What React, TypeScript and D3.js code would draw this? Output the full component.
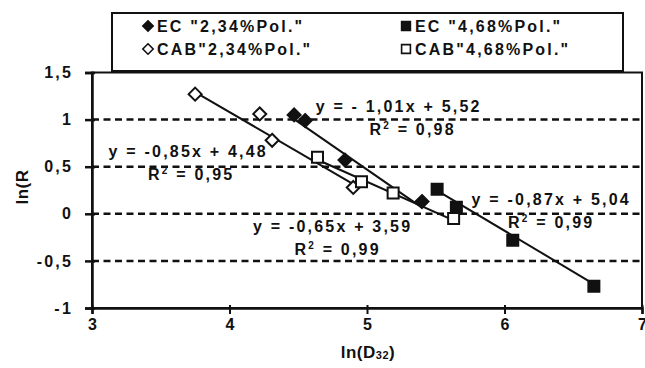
import React from 'react';
import * as d3 from 'd3';

// tick values
const xTicks = [3, 4, 5, 6, 7];
const yTicks = [-1, -0.5, 0, 0.5, 1, 1.5];
const gridValues = [-0.5, 0, 0.5, 1];

// series values
const ecLowX = [4.47, 4.55, 4.84, 5.4];
const ecLowY = [1.05, 0.99, 0.57, 0.13];
const ecHighX = [5.51, 5.65, 6.06, 6.65];
const ecHighY = [0.26, 0.07, -0.28, -0.77];
const cabLowX = [3.75, 4.22, 4.31, 4.9];
const cabLowY = [1.27, 1.06, 0.78, 0.28];
const cabHighX = [4.64, 4.96, 5.19, 5.63];
const cabHighY = [0.6, 0.34, 0.22, -0.05];

const seriesNames = ['EC "2,34%Pol."', 'EC "4,68%Pol."', 'CAB"2,34%Pol."', 'CAB"4,68%Pol."'];
const slopes = [-1.01, -0.87, -0.85, -0.65];
const intercepts = [5.52, 5.04, 4.48, 3.59];
const equations = ['y = - 1,01x + 5,52', 'y = -0,87x + 5,04', 'y = -0,85x + 4,48', 'y = -0,65x + 3,59'];
const rSquared = ['0,98', '0,99', '0,95', '0,99'];
// label anchors in data units (centre of the equation text)
const eqAnchorX = [5.23, 6.34, 3.7, 4.75];
const eqAnchorY = [1.14, 0.15, 0.66, -0.13];

const FONT = '"Liberation Sans", Arial, sans-serif';

const App = () => {
  const ref = React.useRef(null);

  React.useEffect(() => {
    const svg = d3.select(ref.current);
    svg.selectAll('*').remove();

    const x = d3.scaleLinear().domain([3, 7]).range([92, 642]);
    const y = d3.scaleLinear().domain([-1, 1.5]).range([308, 72.5]);

    const series = [
      { name: seriesNames[0], xs: ecLowX, ys: ecLowY, shape: 'diamond', filled: true },
      { name: seriesNames[1], xs: ecHighX, ys: ecHighY, shape: 'square', filled: true },
      { name: seriesNames[2], xs: cabLowX, ys: cabLowY, shape: 'diamond', filled: false },
      { name: seriesNames[3], xs: cabHighX, ys: cabHighY, shape: 'square', filled: false },
    ];

    const markerPath = (shape) =>
      shape === 'diamond' ? 'M0,-6.5L6.5,0L0,6.5L-6.5,0Z' : 'M-5.5,-5.5H5.5V5.5H-5.5Z';

    const txt = (sel) =>
      sel
        .attr('font-family', FONT)
        .attr('font-weight', 'bold')
        .attr('font-size', 16)
        .attr('letter-spacing', 2.2)
        .attr('fill', '#111');

    // legend box
    svg.append('rect')
      .attr('x', 112).attr('y', 13).attr('width', 511).attr('height', 58)
      .attr('fill', 'white').attr('stroke', '#111').attr('stroke-width', 2);

    const legendCols = [148, 406];
    const legendRows = [26, 49];
    series.forEach((s, i) => {
      const lx = legendCols[i % 2];
      const ly = legendRows[Math.floor(i / 2)];
      svg.append('path')
        .attr('d', markerPath(s.shape))
        .attr('transform', `translate(${lx},${ly}) scale(0.8)`)
        .attr('fill', s.filled ? '#111' : 'white')
        .attr('stroke', '#111').attr('stroke-width', 2);
      svg.append('text')
        .call(txt)
        .attr('x', lx + 9).attr('y', ly)
        .attr('dy', '0.36em')
        .text(s.name);
    });

    // plot frame
    svg.append('rect')
      .attr('x', x(3)).attr('y', y(1.5))
      .attr('width', x(7) - x(3)).attr('height', y(-1) - y(1.5))
      .attr('fill', 'none').attr('stroke', '#111').attr('stroke-width', 2);

    // dashed gridlines
    svg.append('g')
      .selectAll('line')
      .data(gridValues)
      .join('line')
      .attr('x1', x(3)).attr('x2', x(7))
      .attr('y1', (d) => y(d)).attr('y2', (d) => y(d))
      .attr('stroke', '#111').attr('stroke-width', 2.5)
      .attr('stroke-dasharray', '7,4.5');

    // y axis
    const yAxis = svg.append('g')
      .attr('transform', `translate(${x(3)},0)`)
      .call(d3.axisLeft(y).tickValues(yTicks).tickSize(7).tickPadding(12)
        .tickFormat((d) => String(d).replace('.', ',')));
    yAxis.select('.domain').attr('stroke', '#111').attr('stroke-width', 2.5);
    yAxis.selectAll('line').attr('stroke', '#111').attr('stroke-width', 2.5).attr('x2', 3).attr('x1', -7);
    yAxis.selectAll('text').call(txt).attr('font-size', 16);

    // x axis
    const xAxis = svg.append('g')
      .attr('transform', `translate(0,${y(-1)})`)
      .call(d3.axisBottom(x).tickValues(xTicks).tickSize(6).tickPadding(5)
        .tickFormat((d) => String(d)));
    xAxis.select('.domain').attr('stroke', '#111').attr('stroke-width', 2.5);
    xAxis.selectAll('line').attr('stroke', '#111').attr('stroke-width', 2).attr('y1', -3);
    xAxis.selectAll('text').call(txt).attr('letter-spacing', 0);

    // trend lines
    series.forEach((s, i) => {
      const [x0, x1] = d3.extent(s.xs);
      svg.append('line')
        .attr('x1', x(x0)).attr('y1', y(slopes[i] * x0 + intercepts[i]))
        .attr('x2', x(x1)).attr('y2', y(slopes[i] * x1 + intercepts[i]))
        .attr('stroke', '#111').attr('stroke-width', 2);
    });

    // markers
    series.forEach((s) => {
      svg.append('g')
        .selectAll('path')
        .data(s.xs.map((v, j) => [v, s.ys[j]]))
        .join('path')
        .attr('d', markerPath(s.shape))
        .attr('transform', (d) => `translate(${x(d[0])},${y(d[1])})`)
        .attr('fill', s.filled ? '#111' : 'white')
        .attr('stroke', '#111').attr('stroke-width', 2);
    });

    // equations and R²
    series.forEach((s, i) => {
      const cx = x(eqAnchorX[i]);
      const cy = y(eqAnchorY[i]);
      svg.append('text')
        .call(txt)
        .attr('x', cx).attr('y', cy).attr('dy', '0.36em')
        .attr('text-anchor', 'middle')
        .text(equations[i]);
      const r = svg.append('text')
        .call(txt)
        .attr('x', cx + (i === 0 ? 14 : i === 2 ? 3 : i === 3 ? 5 : 0)).attr('y', cy + 23).attr('dy', '0.36em')
        .attr('text-anchor', 'middle');
      r.append('tspan').text('R');
      r.append('tspan').attr('font-size', 10).attr('dy', -6).text('2');
      r.append('tspan').attr('dy', 6).text(` = ${rSquared[i]}`);
    });

    // axis titles
    svg.append('text')
      .call(txt)
      .attr('font-size', 17)
      .attr('letter-spacing', 0.5)
      .attr('transform', `translate(28,187) rotate(-90)`)
      .attr('text-anchor', 'middle')
      .text('ln(R');

    const xt = svg.append('text')
      .call(txt)
      .attr('font-size', 17)
      .attr('letter-spacing', 0.5)
      .attr('x', 368).attr('y', 358)
      .attr('text-anchor', 'middle');
    xt.append('tspan').text('ln(D');
    xt.append('tspan').attr('font-size', 11).attr('dy', 1).text('32');
    xt.append('tspan').attr('dy', -1).text(')');
  }, []);

  return (
    <svg
      ref={ref}
      width={645}
      height={368}
      style={{ position: 'absolute', left: 0, top: 0, background: 'white' }}
    />
  );
};

export default App;
